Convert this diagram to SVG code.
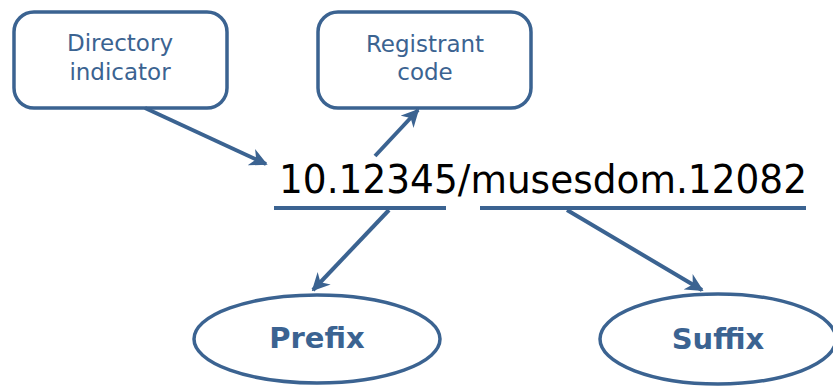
<svg xmlns="http://www.w3.org/2000/svg" width="833" height="387" viewBox="0 0 833 387">
<style>
.box{fill:#fff;stroke:#3B6391;stroke-width:3.5}
.lbl{font-family:"DejaVu Sans",Verdana,sans-serif;font-size:23px;fill:#3B6391;text-anchor:middle}
.big{font-family:"DejaVu Sans",Verdana,sans-serif;font-size:38.5px;fill:#000}
.bold{font-family:"DejaVu Sans",Verdana,sans-serif;font-size:29px;font-weight:bold;fill:#3B6391;text-anchor:middle}
.con{stroke:#3B6391;stroke-width:4;fill:none}
</style>
<defs>
<marker id="ah" viewBox="0 0 10 10" refX="9" refY="5" markerWidth="4.5" markerHeight="4.5" orient="auto" markerUnits="strokeWidth">
<path d="M0,0 L10,5 L0,10 L3,5 Z" fill="#3B6391"/>
</marker>
</defs>
<g id="directory">
<rect class="box" x="14" y="12" width="213" height="96" rx="20"/>
<text class="lbl" x="120" y="51">Directory</text>
<text class="lbl" x="120" y="80">indicator</text>
</g>
<g id="registrant">
<rect class="box" x="318" y="12" width="213" height="96" rx="20"/>
<text class="lbl" x="425" y="52">Registrant</text>
<text class="lbl" x="425" y="80">code</text>
</g>
<g id="doi">
<text class="big" x="279" y="193" textLength="528" lengthAdjust="spacingAndGlyphs">10.12345/musesdom.12082</text>
</g>
<g id="prefix">
<ellipse class="box" cx="317" cy="339" rx="123" ry="44"/>
<text class="bold" x="317" y="348">Prefix</text>
</g>
<g id="suffix">
<ellipse class="box" cx="718" cy="339" rx="118" ry="45"/>
<text class="bold" x="718" y="349">Suffix</text>
</g>
<g id="connectors">
<line class="con" x1="274" y1="208" x2="446" y2="208"/>
<line class="con" x1="480" y1="208" x2="806" y2="208"/>
<line class="con" x1="145" y1="108" x2="266" y2="164" marker-end="url(#ah)"/>
<line class="con" x1="375" y1="156" x2="418" y2="110" marker-end="url(#ah)"/>
<line class="con" x1="389" y1="210" x2="313" y2="290" marker-end="url(#ah)"/>
<line class="con" x1="567" y1="210" x2="702" y2="290" marker-end="url(#ah)"/>
</g>
</svg>
